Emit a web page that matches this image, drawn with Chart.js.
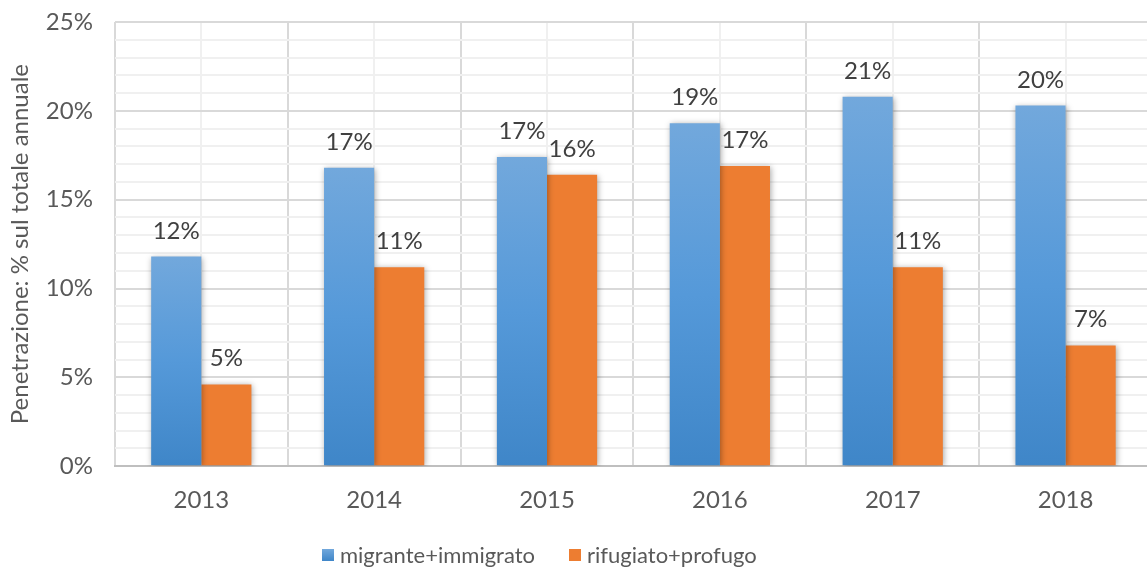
<!DOCTYPE html>
<html>
<head>
<meta charset="utf-8">
<script src="https://cdn.jsdelivr.net/npm/chart.js@4/dist/chart.umd.min.js"></script>
<style>
    html, body { margin: 0; padding: 0; background: #fff; overflow: hidden; }
    #wrap { position: relative; width: 1152px; height: 570px; }
    #legend {
        position: absolute; left: 322px; top: 541px;
        display: flex; align-items: center;
        font: 22px Lato, "Open Sans", sans-serif; color: #595959;
    }
    #legend span.item { display: flex; align-items: center; margin-right: 34px; }
    #legend span.box { width: 12px; height: 12px; margin-right: 6px; display: inline-block; }
</style>
</head>
<body>
<div id="wrap">
    <canvas id="chart"></canvas>
    <div id="legend"></div>
</div>
<script>
// Chart data
const years = ['2013', '2014', '2015', '2016', '2017', '2018'];
const migrante = [11.8, 16.8, 17.4, 19.3, 20.8, 20.3];
const rifugiato = [4.6, 11.2, 16.4, 16.9, 11.2, 6.8];
const seriesNames = ['migrante+immigrato', 'rifugiato+profugo'];
const seriesColors = ['#5b9bd5', '#ed7d31'];
const yMax = 25;
const yMajorStep = 5;

const FONT = 'Lato, "Open Sans", sans-serif';

// -------------------------------------------------------------------------
// Blue bars: vertical gradient per bar
// -------------------------------------------------------------------------
function blueGradient(context) {
    const chart = context.chart;
    if (!chart.chartArea || context.type !== 'data') return seriesColors[0];
    const y = chart.scales.y;
    const top = y.getPixelForValue(context.raw);
    const base = y.getPixelForValue(0);
    const g = chart.ctx.createLinearGradient(0, top, 0, base);
    g.addColorStop(0, '#72a8dc');
    g.addColorStop(0.5, '#5599d9');
    g.addColorStop(1, '#3f86c8');
    return g;
}

// minor vertical gridlines at category centres
const minorGrid = {
    id: 'minorGrid',
    beforeDraw(chart) {
        const { ctx, chartArea, scales } = chart;
        ctx.save();
        ctx.strokeStyle = '#f0f0f0';
        ctx.lineWidth = 2;
        years.forEach((_, i) => {
            const x = Math.round(scales.x.getPixelForValue(i));
            ctx.beginPath();
            ctx.moveTo(x, chartArea.top);
            ctx.lineTo(x, chartArea.bottom);
            ctx.stroke();
        });
        ctx.restore();
    }
};

// soft shadow behind the bars
const barShadow = {
    id: 'barShadow',
    beforeDatasetDraw(chart) {
        const ctx = chart.ctx;
        ctx.save();
        ctx.shadowColor = 'rgba(0,0,0,0.35)';
        ctx.shadowBlur = 6;
        ctx.shadowOffsetX = 1;
        ctx.shadowOffsetY = 1;
    },
    afterDatasetDraw(chart) {
        chart.ctx.restore();
    }
};

// value labels above the bars
const valueLabels = {
    id: 'valueLabels',
    afterDatasetsDraw(chart) {
        const ctx = chart.ctx;
        ctx.save();
        ctx.font = '24px ' + FONT;
        ctx.fillStyle = '#404040';
        ctx.textAlign = 'center';
        ctx.textBaseline = 'alphabetic';
        chart.data.datasets.forEach((ds, di) => {
            chart.getDatasetMeta(di).data.forEach((bar, i) => {
                ctx.fillText(Math.round(ds.data[i]) + '%', bar.x, bar.y - 18);
            });
        });
        ctx.restore();
    }
};

// HTML legend
const legendEl = document.getElementById('legend');
seriesNames.forEach((name, i) => {
    const item = document.createElement('span');
    item.className = 'item';
    const box = document.createElement('span');
    box.className = 'box';
    box.style.background = i === 0
        ? 'linear-gradient(#72a8dc, #3f86c8)'
        : seriesColors[i];
    item.appendChild(box);
    item.appendChild(document.createTextNode(name));
    legendEl.appendChild(item);
});

new Chart(document.getElementById('chart'), {
    type: 'bar',
    data: {
        labels: years,
        datasets: [
            {
                label: seriesNames[0],
                data: migrante,
                backgroundColor: blueGradient,
                borderWidth: 0,
                categoryPercentage: 0.58,
                barPercentage: 1.0
            },
            {
                label: seriesNames[1],
                data: rifugiato,
                backgroundColor: seriesColors[1],
                borderWidth: 0,
                categoryPercentage: 0.58,
                barPercentage: 1.0
            }
        ]
    },
    options: {
        responsive: true,
        maintainAspectRatio: false,
        animation: false,
        layout: { padding: { top: 0, left: 6, right: 0, bottom: 35 } },
        plugins: {
            legend: { display: false },
            tooltip: { enabled: false }
        },
        scales: {
            x: {
                grid: {
                    color: '#d9d9d9',
                    lineWidth: 2,
                    offset: true,
                    drawTicks: false
                },
                border: { color: '#bfbfbf', width: 2 },
                ticks: {
                    font: { family: FONT, size: 24 },
                    color: '#595959',
                    padding: 20
                }
            },
            y: {
                min: 0,
                max: yMax,
                grid: {
                    color: (c) => (c.tick && c.tick.value % yMajorStep === 0 ? '#d9d9d9' : '#f0f0f0'),
                    lineWidth: 2,
                    drawTicks: false
                },
                border: { display: false },
                ticks: {
                    stepSize: 1,
                    autoSkip: false,
                    // lineHeight 0 so the tick padding alone sets the top inset
                    font: { family: FONT, size: 24, lineHeight: 0 },
                    color: '#595959',
                    padding: 22,
                    callback: (v) => (v % yMajorStep === 0 ? v + '%' : '')
                },
                title: {
                    display: true,
                    text: 'Penetrazione: % sul totale annuale',
                    font: { family: FONT, size: 24 },
                    color: '#595959',
                    padding: { top: 0, bottom: -11 }
                }
            }
        }
    },
    plugins: [minorGrid, barShadow, valueLabels]
});
</script>
</body>
</html>
